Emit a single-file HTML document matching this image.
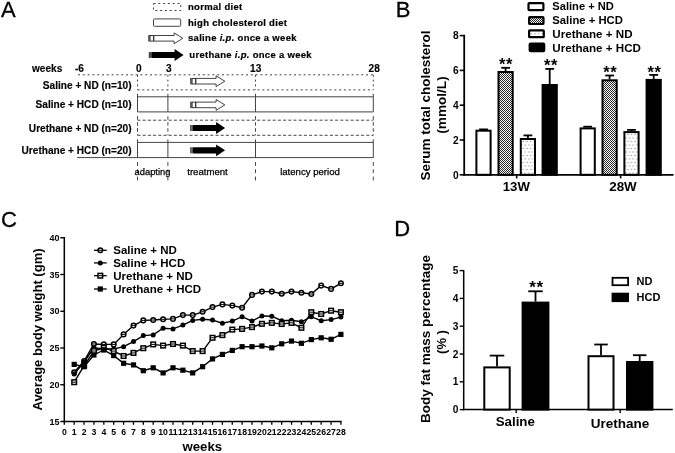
<!DOCTYPE html><html><head><meta charset="utf-8"><title>Figure</title>
<style>html,body{margin:0;padding:0;background:#fff}svg{display:block}text{font-family:"Liberation Sans", Arial, sans-serif;fill:#000}</style></head><body>
<svg width="675" height="453" viewBox="0 0 675 453">
<defs>
<pattern id="chk" width="2" height="2" patternUnits="userSpaceOnUse"><rect width="2" height="2" fill="#fff"/><rect width="1" height="1" fill="#2a2a2a"/><rect x="1" y="1" width="1" height="1" fill="#2a2a2a"/></pattern>
<pattern id="dot" x="0.5" y="0" width="3.6" height="7" patternUnits="userSpaceOnUse"><rect width="3.6" height="7" fill="#fff"/><rect x="0.4" y="1" width="1" height="1" fill="#777"/><rect x="2.2" y="4.5" width="1" height="1" fill="#777"/></pattern>
<pattern id="dot2" x="530.6" y="31.2" width="3.6" height="7" patternUnits="userSpaceOnUse"><rect width="3.6" height="7" fill="#fff"/><rect x="0.4" y="2" width="1" height="1" fill="#777"/></pattern>
</defs>
<rect width="675" height="453" fill="#fff"/>
<text x="0.9" y="16.8" font-size="22" font-weight="normal" text-anchor="start" stroke="#000" stroke-width="0.3">A</text>
<rect x="153.5" y="3.5" width="27.2" height="7" fill="none" stroke="#444" stroke-width="1" stroke-dasharray="2 2.8"/>
<rect x="153.5" y="18.9" width="27.2" height="7.4" fill="#fff" stroke="#444" stroke-width="1" rx="1"/>
<rect x="148.3" y="35.099999999999994" width="1.3" height="6.4" fill="#222"/>
<rect x="150.10000000000002" y="35.5" width="3.3" height="5.6" fill="#fff" stroke="#222" stroke-width="0.9"/>
<path d="M153.9 35.5H174.10000000000002V32.9L182.8 38.3L174.10000000000002 43.699999999999996V41.099999999999994H153.9Z" fill="#fff" stroke="#222" stroke-width="0.85"/>
<rect x="148.8" y="52" width="2.6" height="6" fill="#999"/>
<rect x="148.9" y="52" width="0.8" height="6" fill="#222"/>
<rect x="150.3" y="52" width="0.7" height="6" fill="#333"/>
<path d="M152.0 51.9H174.60000000000002V49.1L183.60000000000002 55L174.60000000000002 60.9V58.1H152.0L151.3 57.4V52.6Z" fill="#000"/>
<text x="188" y="10.4" font-size="9.5" font-weight="bold" text-anchor="start" letter-spacing="0.3" stroke="#000" stroke-width="0.2">normal diet</text>
<text x="188" y="25.6" font-size="9.5" font-weight="bold" text-anchor="start" letter-spacing="0.3" stroke="#000" stroke-width="0.2">high cholesterol diet</text>
<text x="188" y="40.6" font-size="9.5" font-weight="bold" text-anchor="start" letter-spacing="0.3" stroke="#000" stroke-width="0.2">saline <tspan font-style="italic">i.p.</tspan> once a week</text>
<text x="189.3" y="57.6" font-size="9.5" font-weight="bold" text-anchor="start" letter-spacing="0.3" stroke="#000" stroke-width="0.2">urethane <tspan font-style="italic">i.p.</tspan> once a week</text>
<text x="32" y="71.8" font-size="10.1" font-weight="bold" text-anchor="start" stroke="#000" stroke-width="0.15">weeks</text>
<text x="75" y="71.8" font-size="10.1" font-weight="bold" text-anchor="start" stroke="#000" stroke-width="0.15">-6</text>
<text x="138.7" y="71.8" font-size="10.1" font-weight="bold" text-anchor="middle" stroke="#000" stroke-width="0.15">0</text>
<text x="168.7" y="71.8" font-size="10.1" font-weight="bold" text-anchor="middle" stroke="#000" stroke-width="0.15">3</text>
<text x="255.7" y="71.8" font-size="10.1" font-weight="bold" text-anchor="middle" stroke="#000" stroke-width="0.15">13</text>
<text x="374.2" y="71.8" font-size="10.1" font-weight="bold" text-anchor="middle" stroke="#000" stroke-width="0.15">28</text>
<line x1="78" y1="74.8" x2="373.3" y2="74.8" stroke="#444" stroke-width="1" stroke-dasharray="2 2.8"/>
<line x1="137.5" y1="89.9" x2="373.3" y2="89.9" stroke="#444" stroke-width="1" stroke-dasharray="2 2.8"/>
<line x1="137.5" y1="74.8" x2="137.5" y2="89.9" stroke="#444" stroke-width="1" stroke-dasharray="2 2.8"/>
<line x1="167.9" y1="74.8" x2="167.9" y2="89.9" stroke="#444" stroke-width="1" stroke-dasharray="2 2.8"/>
<line x1="255.5" y1="74.8" x2="255.5" y2="89.9" stroke="#444" stroke-width="1" stroke-dasharray="2 2.8"/>
<line x1="373.3" y1="74.8" x2="373.3" y2="89.9" stroke="#444" stroke-width="1" stroke-dasharray="2 2.8"/>
<text x="131.5" y="88.5" font-size="10.1" font-weight="bold" text-anchor="end" stroke="#000" stroke-width="0.15">Saline + ND (n=10)</text>
<rect x="190.3" y="78.0" width="1.3" height="6.4" fill="#222"/>
<rect x="192.10000000000002" y="78.4" width="3.3" height="5.6" fill="#fff" stroke="#222" stroke-width="0.9"/>
<path d="M195.9 78.4H216.10000000000002V75.8L224.8 81.2L216.10000000000002 86.60000000000001V84.0H195.9Z" fill="#fff" stroke="#222" stroke-width="0.85"/>
<line x1="137.5" y1="96.8" x2="373.3" y2="96.8" stroke="#444" stroke-width="1" />
<line x1="137.5" y1="111.9" x2="373.3" y2="111.9" stroke="#444" stroke-width="1" />
<line x1="137.5" y1="93.8" x2="137.5" y2="111.9" stroke="#444" stroke-width="1" />
<line x1="167.9" y1="93.8" x2="167.9" y2="111.9" stroke="#444" stroke-width="1" />
<line x1="255.5" y1="93.8" x2="255.5" y2="111.9" stroke="#444" stroke-width="1" />
<line x1="373.3" y1="93.8" x2="373.3" y2="111.9" stroke="#444" stroke-width="1" />
<text x="131.5" y="107.7" font-size="10.1" font-weight="bold" text-anchor="end" stroke="#000" stroke-width="0.15">Saline + HCD (n=10)</text>
<rect x="190.3" y="101.7" width="1.3" height="6.4" fill="#222"/>
<rect x="192.10000000000002" y="102.10000000000001" width="3.3" height="5.6" fill="#fff" stroke="#222" stroke-width="0.9"/>
<path d="M195.9 102.10000000000001H216.10000000000002V99.5L224.8 104.9L216.10000000000002 110.30000000000001V107.7H195.9Z" fill="#fff" stroke="#222" stroke-width="0.85"/>
<line x1="137.5" y1="120.2" x2="373.3" y2="120.2" stroke="#444" stroke-width="1" stroke-dasharray="3 2.2"/>
<line x1="137.5" y1="135.3" x2="373.3" y2="135.3" stroke="#444" stroke-width="1" stroke-dasharray="3 2.2"/>
<line x1="137.5" y1="116.2" x2="137.5" y2="135.3" stroke="#444" stroke-width="1" stroke-dasharray="3.5 2.5"/>
<line x1="167.9" y1="116.2" x2="167.9" y2="135.3" stroke="#444" stroke-width="1" stroke-dasharray="3.5 2.5"/>
<line x1="255.5" y1="116.2" x2="255.5" y2="135.3" stroke="#444" stroke-width="1" stroke-dasharray="3.5 2.5"/>
<line x1="373.3" y1="116.2" x2="373.3" y2="135.3" stroke="#444" stroke-width="1" stroke-dasharray="3.5 2.5"/>
<text x="131.5" y="132" font-size="10.1" font-weight="bold" text-anchor="end" stroke="#000" stroke-width="0.15">Urethane + ND (n=20)</text>
<rect x="190.3" y="125" width="2.6" height="6" fill="#999"/>
<rect x="190.4" y="125" width="0.8" height="6" fill="#222"/>
<rect x="191.8" y="125" width="0.7" height="6" fill="#333"/>
<path d="M193.5 124.9H216.10000000000002V122.1L225.10000000000002 128L216.10000000000002 133.9V131.1H193.5L192.8 130.4V125.6Z" fill="#000"/>
<line x1="137.5" y1="142.4" x2="373.3" y2="142.4" stroke="#444" stroke-width="1" />
<line x1="77" y1="157.6" x2="373.3" y2="157.6" stroke="#444" stroke-width="1" />
<line x1="137.5" y1="139.4" x2="137.5" y2="157.6" stroke="#444" stroke-width="1" />
<line x1="167.9" y1="139.4" x2="167.9" y2="157.6" stroke="#444" stroke-width="1" />
<line x1="255.5" y1="139.4" x2="255.5" y2="157.6" stroke="#444" stroke-width="1" />
<line x1="373.3" y1="139.4" x2="373.3" y2="157.6" stroke="#444" stroke-width="1" />
<text x="131.5" y="153.7" font-size="10.1" font-weight="bold" text-anchor="end" stroke="#000" stroke-width="0.15">Urethane + HCD (n=20)</text>
<rect x="190.3" y="147.3" width="2.6" height="6" fill="#999"/>
<rect x="190.4" y="147.3" width="0.8" height="6" fill="#222"/>
<rect x="191.8" y="147.3" width="0.7" height="6" fill="#333"/>
<path d="M193.5 147.20000000000002H216.10000000000002V144.4L225.10000000000002 150.3L216.10000000000002 156.20000000000002V153.4H193.5L192.8 152.70000000000002V147.9Z" fill="#000"/>
<line x1="137.5" y1="162" x2="137.5" y2="181.5" stroke="#444" stroke-width="1" stroke-dasharray="3.8 3.5"/>
<line x1="167.9" y1="162" x2="167.9" y2="181.5" stroke="#444" stroke-width="1" stroke-dasharray="3.8 3.5"/>
<line x1="255.5" y1="162" x2="255.5" y2="181.5" stroke="#444" stroke-width="1" stroke-dasharray="3.8 3.5"/>
<line x1="373.3" y1="162" x2="373.3" y2="181.5" stroke="#444" stroke-width="1" stroke-dasharray="3.8 3.5"/>
<text x="152.5" y="174.8" font-size="9.4" font-weight="normal" text-anchor="middle" stroke="#000" stroke-width="0.25">adapting</text>
<text x="207.5" y="174.8" font-size="9.6" font-weight="normal" text-anchor="middle" stroke="#000" stroke-width="0.25">treatment</text>
<text x="310" y="174.8" font-size="9.6" font-weight="normal" text-anchor="middle" stroke="#000" stroke-width="0.25">latency period</text>
<text x="395.7" y="16.7" font-size="22" font-weight="normal" text-anchor="start" stroke="#000" stroke-width="0.3">B</text>
<rect x="528.5" y="3.2" width="14.900000000000023" height="6.8999999999999995" fill="#fff" stroke="#000" stroke-width="2.2" rx="0.8"/>
<text x="552.3" y="10.0" font-size="11.6" font-weight="bold" text-anchor="start" textLength="61.6" lengthAdjust="spacingAndGlyphs">Saline + ND</text>
<rect x="529.1" y="17.1" width="14.400000000000023" height="6.900000000000001" fill="url(#chk)" stroke="#000" stroke-width="2.2" rx="0.8"/>
<text x="552.3" y="24.1" font-size="11.6" font-weight="bold" text-anchor="start" textLength="70.6" lengthAdjust="spacingAndGlyphs">Saline + HCD</text>
<rect x="529.1" y="30.3" width="14.699999999999978" height="6.899999999999998" fill="url(#dot2)" stroke="#000" stroke-width="2.2" rx="0.8"/>
<text x="552.3" y="37.5" font-size="11.6" font-weight="bold" text-anchor="start" >Urethane + ND</text>
<rect x="529.7" y="43.6" width="14.499999999999932" height="7.500000000000003" fill="#000" stroke="#000" stroke-width="2.2" rx="0.8"/>
<text x="552.3" y="51.5" font-size="11.6" font-weight="bold" text-anchor="start" >Urethane + HCD</text>
<line x1="464.2" y1="34.800000000000026" x2="464.2" y2="175.70000000000002" stroke="#000" stroke-width="1.8" />
<line x1="463.3" y1="174.8" x2="673.5" y2="174.8" stroke="#000" stroke-width="1.8" />
<line x1="459.7" y1="174.8" x2="464.2" y2="174.8" stroke="#000" stroke-width="1.6" />
<text x="458.59999999999997" y="178.5" font-size="10.2" font-weight="bold" text-anchor="end" >0</text>
<line x1="459.7" y1="140.0" x2="464.2" y2="140.0" stroke="#000" stroke-width="1.6" />
<text x="458.59999999999997" y="143.7" font-size="10.2" font-weight="bold" text-anchor="end" >2</text>
<line x1="459.7" y1="105.20000000000002" x2="464.2" y2="105.20000000000002" stroke="#000" stroke-width="1.6" />
<text x="458.59999999999997" y="108.90000000000002" font-size="10.2" font-weight="bold" text-anchor="end" >4</text>
<line x1="459.7" y1="70.40000000000002" x2="464.2" y2="70.40000000000002" stroke="#000" stroke-width="1.6" />
<text x="458.59999999999997" y="74.10000000000002" font-size="10.2" font-weight="bold" text-anchor="end" >6</text>
<line x1="459.7" y1="35.60000000000002" x2="464.2" y2="35.60000000000002" stroke="#000" stroke-width="1.6" />
<text x="458.59999999999997" y="39.300000000000026" font-size="10.2" font-weight="bold" text-anchor="end" >8</text>
<text transform="translate(430.0 105.5) rotate(-90)" font-size="13.5" font-weight="bold" text-anchor="middle" >Serum total cholesterol</text>
<text transform="translate(446.1 105) rotate(-90)" font-size="13.6" font-weight="bold" text-anchor="middle" >(mmol/L)</text>
<line x1="483.5" y1="129.7" x2="483.5" y2="129.4" stroke="#000" stroke-width="1.8" />
<line x1="479.1" y1="129.4" x2="487.9" y2="129.4" stroke="#000" stroke-width="1.8" />
<rect x="476.4" y="130.7" width="14.2" height="44.10000000000002" fill="#fff" stroke="#000" stroke-width="2" />
<line x1="505.6" y1="71" x2="505.6" y2="67.8" stroke="#000" stroke-width="1.8" />
<line x1="501.20000000000005" y1="67.8" x2="510.0" y2="67.8" stroke="#000" stroke-width="1.8" />
<rect x="498.5" y="72" width="14.2" height="102.80000000000001" fill="url(#chk)" stroke="#000" stroke-width="2" />
<line x1="527.9" y1="138" x2="527.9" y2="135.4" stroke="#000" stroke-width="1.8" />
<line x1="523.5" y1="135.4" x2="532.3" y2="135.4" stroke="#000" stroke-width="1.8" />
<rect x="520.8" y="139" width="14.2" height="35.80000000000001" fill="url(#dot)" stroke="#000" stroke-width="2" />
<line x1="549.7" y1="84" x2="549.7" y2="68.9" stroke="#000" stroke-width="1.8" />
<line x1="545.3000000000001" y1="68.9" x2="554.1" y2="68.9" stroke="#000" stroke-width="1.8" />
<rect x="542.6" y="85" width="14.2" height="89.80000000000001" fill="#000" stroke="#000" stroke-width="2" />
<line x1="587.7" y1="127.4" x2="587.7" y2="126.7" stroke="#000" stroke-width="1.8" />
<line x1="583.3000000000001" y1="126.7" x2="592.1" y2="126.7" stroke="#000" stroke-width="1.8" />
<rect x="580.6" y="128.4" width="14.2" height="46.400000000000006" fill="#fff" stroke="#000" stroke-width="2" />
<line x1="609.6" y1="79.3" x2="609.6" y2="75.5" stroke="#000" stroke-width="1.8" />
<line x1="605.2" y1="75.5" x2="614.0" y2="75.5" stroke="#000" stroke-width="1.8" />
<rect x="602.5" y="80.3" width="14.2" height="94.50000000000001" fill="url(#chk)" stroke="#000" stroke-width="2" />
<line x1="631.5" y1="131.1" x2="631.5" y2="129.9" stroke="#000" stroke-width="1.8" />
<line x1="627.1" y1="129.9" x2="635.9" y2="129.9" stroke="#000" stroke-width="1.8" />
<rect x="624.4" y="132.1" width="14.2" height="42.70000000000002" fill="url(#dot)" stroke="#000" stroke-width="2" />
<line x1="653.7" y1="78.9" x2="653.7" y2="74.9" stroke="#000" stroke-width="1.8" />
<line x1="649.3000000000001" y1="74.9" x2="658.1" y2="74.9" stroke="#000" stroke-width="1.8" />
<rect x="646.6" y="79.9" width="14.2" height="94.9" fill="#000" stroke="#000" stroke-width="2" />
<text x="506.1" y="70" font-size="16.5" font-weight="bold" text-anchor="middle" letter-spacing="0.6">**</text>
<text x="551.0999999999999" y="71.3" font-size="16.5" font-weight="bold" text-anchor="middle" letter-spacing="0.6">**</text>
<text x="610.1999999999999" y="78.3" font-size="16.5" font-weight="bold" text-anchor="middle" letter-spacing="0.6">**</text>
<text x="654.5" y="78.3" font-size="16.5" font-weight="bold" text-anchor="middle" letter-spacing="0.6">**</text>
<line x1="516.7" y1="174.8" x2="516.7" y2="178.4" stroke="#000" stroke-width="1.6" />
<line x1="620.6" y1="174.8" x2="620.6" y2="178.4" stroke="#000" stroke-width="1.6" />
<text x="516.3" y="190.8" font-size="13.2" font-weight="bold" text-anchor="middle" >13W</text>
<text x="623" y="190.8" font-size="13.4" font-weight="bold" text-anchor="middle" >28W</text>
<text x="1" y="227.1" font-size="22" font-weight="normal" text-anchor="start" stroke="#000" stroke-width="0.3">C</text>
<line x1="64.3" y1="237" x2="64.3" y2="422.2" stroke="#000" stroke-width="1.5" />
<line x1="63.599999999999994" y1="421.5" x2="341.64000000000004" y2="421.5" stroke="#000" stroke-width="1.5" />
<line x1="60.3" y1="421.5" x2="64.3" y2="421.5" stroke="#000" stroke-width="1.4" />
<text x="59.5" y="424.7" font-size="9" font-weight="bold" text-anchor="end" >15</text>
<line x1="60.3" y1="384.75" x2="64.3" y2="384.75" stroke="#000" stroke-width="1.4" />
<text x="59.5" y="387.95" font-size="9" font-weight="bold" text-anchor="end" >20</text>
<line x1="60.3" y1="348.0" x2="64.3" y2="348.0" stroke="#000" stroke-width="1.4" />
<text x="59.5" y="351.2" font-size="9" font-weight="bold" text-anchor="end" >25</text>
<line x1="60.3" y1="311.25" x2="64.3" y2="311.25" stroke="#000" stroke-width="1.4" />
<text x="59.5" y="314.45" font-size="9" font-weight="bold" text-anchor="end" >30</text>
<line x1="60.3" y1="274.5" x2="64.3" y2="274.5" stroke="#000" stroke-width="1.4" />
<text x="59.5" y="277.7" font-size="9" font-weight="bold" text-anchor="end" >35</text>
<line x1="60.3" y1="237.75" x2="64.3" y2="237.75" stroke="#000" stroke-width="1.4" />
<text x="59.5" y="240.95" font-size="9" font-weight="bold" text-anchor="end" >40</text>
<line x1="64.3" y1="421.5" x2="64.3" y2="424.8" stroke="#000" stroke-width="1.3" />
<text x="64.3" y="434.6" font-size="8.7" font-weight="bold" text-anchor="middle" >0</text>
<line x1="74.17999999999999" y1="421.5" x2="74.17999999999999" y2="424.8" stroke="#000" stroke-width="1.3" />
<text x="74.17999999999999" y="434.6" font-size="8.7" font-weight="bold" text-anchor="middle" >1</text>
<line x1="84.06" y1="421.5" x2="84.06" y2="424.8" stroke="#000" stroke-width="1.3" />
<text x="84.06" y="434.6" font-size="8.7" font-weight="bold" text-anchor="middle" >2</text>
<line x1="93.94" y1="421.5" x2="93.94" y2="424.8" stroke="#000" stroke-width="1.3" />
<text x="93.94" y="434.6" font-size="8.7" font-weight="bold" text-anchor="middle" >3</text>
<line x1="103.82" y1="421.5" x2="103.82" y2="424.8" stroke="#000" stroke-width="1.3" />
<text x="103.82" y="434.6" font-size="8.7" font-weight="bold" text-anchor="middle" >4</text>
<line x1="113.7" y1="421.5" x2="113.7" y2="424.8" stroke="#000" stroke-width="1.3" />
<text x="113.7" y="434.6" font-size="8.7" font-weight="bold" text-anchor="middle" >5</text>
<line x1="123.58" y1="421.5" x2="123.58" y2="424.8" stroke="#000" stroke-width="1.3" />
<text x="123.58" y="434.6" font-size="8.7" font-weight="bold" text-anchor="middle" >6</text>
<line x1="133.46" y1="421.5" x2="133.46" y2="424.8" stroke="#000" stroke-width="1.3" />
<text x="133.46" y="434.6" font-size="8.7" font-weight="bold" text-anchor="middle" >7</text>
<line x1="143.34" y1="421.5" x2="143.34" y2="424.8" stroke="#000" stroke-width="1.3" />
<text x="143.34" y="434.6" font-size="8.7" font-weight="bold" text-anchor="middle" >8</text>
<line x1="153.22" y1="421.5" x2="153.22" y2="424.8" stroke="#000" stroke-width="1.3" />
<text x="153.22" y="434.6" font-size="8.7" font-weight="bold" text-anchor="middle" >9</text>
<line x1="163.10000000000002" y1="421.5" x2="163.10000000000002" y2="424.8" stroke="#000" stroke-width="1.3" />
<text x="163.10000000000002" y="434.6" font-size="8.7" font-weight="bold" text-anchor="middle" >10</text>
<line x1="172.98000000000002" y1="421.5" x2="172.98000000000002" y2="424.8" stroke="#000" stroke-width="1.3" />
<text x="172.98000000000002" y="434.6" font-size="8.7" font-weight="bold" text-anchor="middle" >11</text>
<line x1="182.86" y1="421.5" x2="182.86" y2="424.8" stroke="#000" stroke-width="1.3" />
<text x="182.86" y="434.6" font-size="8.7" font-weight="bold" text-anchor="middle" >12</text>
<line x1="192.74" y1="421.5" x2="192.74" y2="424.8" stroke="#000" stroke-width="1.3" />
<text x="192.74" y="434.6" font-size="8.7" font-weight="bold" text-anchor="middle" >13</text>
<line x1="202.62" y1="421.5" x2="202.62" y2="424.8" stroke="#000" stroke-width="1.3" />
<text x="202.62" y="434.6" font-size="8.7" font-weight="bold" text-anchor="middle" >14</text>
<line x1="212.5" y1="421.5" x2="212.5" y2="424.8" stroke="#000" stroke-width="1.3" />
<text x="212.5" y="434.6" font-size="8.7" font-weight="bold" text-anchor="middle" >15</text>
<line x1="222.38" y1="421.5" x2="222.38" y2="424.8" stroke="#000" stroke-width="1.3" />
<text x="222.38" y="434.6" font-size="8.7" font-weight="bold" text-anchor="middle" >16</text>
<line x1="232.26" y1="421.5" x2="232.26" y2="424.8" stroke="#000" stroke-width="1.3" />
<text x="232.26" y="434.6" font-size="8.7" font-weight="bold" text-anchor="middle" >17</text>
<line x1="242.14" y1="421.5" x2="242.14" y2="424.8" stroke="#000" stroke-width="1.3" />
<text x="242.14" y="434.6" font-size="8.7" font-weight="bold" text-anchor="middle" >18</text>
<line x1="252.02000000000004" y1="421.5" x2="252.02000000000004" y2="424.8" stroke="#000" stroke-width="1.3" />
<text x="252.02000000000004" y="434.6" font-size="8.7" font-weight="bold" text-anchor="middle" >19</text>
<line x1="261.90000000000003" y1="421.5" x2="261.90000000000003" y2="424.8" stroke="#000" stroke-width="1.3" />
<text x="261.90000000000003" y="434.6" font-size="8.7" font-weight="bold" text-anchor="middle" >20</text>
<line x1="271.78000000000003" y1="421.5" x2="271.78000000000003" y2="424.8" stroke="#000" stroke-width="1.3" />
<text x="271.78000000000003" y="434.6" font-size="8.7" font-weight="bold" text-anchor="middle" >21</text>
<line x1="281.66" y1="421.5" x2="281.66" y2="424.8" stroke="#000" stroke-width="1.3" />
<text x="281.66" y="434.6" font-size="8.7" font-weight="bold" text-anchor="middle" >22</text>
<line x1="291.54" y1="421.5" x2="291.54" y2="424.8" stroke="#000" stroke-width="1.3" />
<text x="291.54" y="434.6" font-size="8.7" font-weight="bold" text-anchor="middle" >23</text>
<line x1="301.42" y1="421.5" x2="301.42" y2="424.8" stroke="#000" stroke-width="1.3" />
<text x="301.42" y="434.6" font-size="8.7" font-weight="bold" text-anchor="middle" >24</text>
<line x1="311.3" y1="421.5" x2="311.3" y2="424.8" stroke="#000" stroke-width="1.3" />
<text x="311.3" y="434.6" font-size="8.7" font-weight="bold" text-anchor="middle" >25</text>
<line x1="321.18" y1="421.5" x2="321.18" y2="424.8" stroke="#000" stroke-width="1.3" />
<text x="321.18" y="434.6" font-size="8.7" font-weight="bold" text-anchor="middle" >26</text>
<line x1="331.06000000000006" y1="421.5" x2="331.06000000000006" y2="424.8" stroke="#000" stroke-width="1.3" />
<text x="331.06000000000006" y="434.6" font-size="8.7" font-weight="bold" text-anchor="middle" >27</text>
<line x1="340.94000000000005" y1="421.5" x2="340.94000000000005" y2="424.8" stroke="#000" stroke-width="1.3" />
<text x="340.94000000000005" y="434.6" font-size="8.7" font-weight="bold" text-anchor="middle" >28</text>
<text x="202.3" y="451" font-size="13.2" font-weight="bold" text-anchor="middle" >weeks</text>
<text transform="translate(42.2 329.5) rotate(-90)" font-size="13.0" font-weight="bold" text-anchor="middle" >Average body weight (gm)</text>
<polyline fill="none" stroke="#000" stroke-width="1.4" points="74.2,372.2 84.1,361.0 93.9,344.0 103.8,344.4 113.7,344.4 123.6,334.4 133.5,325.6 143.3,320.4 153.2,320.0 163.1,319.3 173.0,318.9 182.9,315.1 192.7,315.1 202.6,311.8 212.5,307.1 222.4,304.4 232.3,305.6 242.1,307.8 252.0,294.9 261.9,291.6 271.8,291.6 281.7,293.8 291.5,291.6 301.4,292.7 311.3,294.0 321.2,285.6 331.1,288.9 340.9,283.3"/>
<circle cx="74.2" cy="372.2" r="2.3" fill="#fff" stroke="#000" stroke-width="1.5"/><line x1="72.4" y1="372.2" x2="76.0" y2="372.2" stroke="#000" stroke-width="1"/>
<circle cx="84.1" cy="361.0" r="2.3" fill="#fff" stroke="#000" stroke-width="1.5"/><line x1="82.3" y1="361.0" x2="85.9" y2="361.0" stroke="#000" stroke-width="1"/>
<circle cx="93.9" cy="344.0" r="2.3" fill="#fff" stroke="#000" stroke-width="1.5"/><line x1="92.1" y1="344.0" x2="95.7" y2="344.0" stroke="#000" stroke-width="1"/>
<circle cx="103.8" cy="344.4" r="2.3" fill="#fff" stroke="#000" stroke-width="1.5"/><line x1="102.0" y1="344.4" x2="105.6" y2="344.4" stroke="#000" stroke-width="1"/>
<circle cx="113.7" cy="344.4" r="2.3" fill="#fff" stroke="#000" stroke-width="1.5"/><line x1="111.9" y1="344.4" x2="115.5" y2="344.4" stroke="#000" stroke-width="1"/>
<circle cx="123.6" cy="334.4" r="2.3" fill="#fff" stroke="#000" stroke-width="1.5"/><line x1="121.8" y1="334.4" x2="125.4" y2="334.4" stroke="#000" stroke-width="1"/>
<circle cx="133.5" cy="325.6" r="2.3" fill="#fff" stroke="#000" stroke-width="1.5"/><line x1="131.7" y1="325.6" x2="135.3" y2="325.6" stroke="#000" stroke-width="1"/>
<circle cx="143.3" cy="320.4" r="2.3" fill="#fff" stroke="#000" stroke-width="1.5"/><line x1="141.5" y1="320.4" x2="145.1" y2="320.4" stroke="#000" stroke-width="1"/>
<circle cx="153.2" cy="320.0" r="2.3" fill="#fff" stroke="#000" stroke-width="1.5"/><line x1="151.4" y1="320.0" x2="155.0" y2="320.0" stroke="#000" stroke-width="1"/>
<circle cx="163.1" cy="319.3" r="2.3" fill="#fff" stroke="#000" stroke-width="1.5"/><line x1="161.3" y1="319.3" x2="164.9" y2="319.3" stroke="#000" stroke-width="1"/>
<circle cx="173.0" cy="318.9" r="2.3" fill="#fff" stroke="#000" stroke-width="1.5"/><line x1="171.2" y1="318.9" x2="174.8" y2="318.9" stroke="#000" stroke-width="1"/>
<circle cx="182.9" cy="315.1" r="2.3" fill="#fff" stroke="#000" stroke-width="1.5"/><line x1="181.1" y1="315.1" x2="184.7" y2="315.1" stroke="#000" stroke-width="1"/>
<circle cx="192.7" cy="315.1" r="2.3" fill="#fff" stroke="#000" stroke-width="1.5"/><line x1="190.9" y1="315.1" x2="194.5" y2="315.1" stroke="#000" stroke-width="1"/>
<circle cx="202.6" cy="311.8" r="2.3" fill="#fff" stroke="#000" stroke-width="1.5"/><line x1="200.8" y1="311.8" x2="204.4" y2="311.8" stroke="#000" stroke-width="1"/>
<circle cx="212.5" cy="307.1" r="2.3" fill="#fff" stroke="#000" stroke-width="1.5"/><line x1="210.7" y1="307.1" x2="214.3" y2="307.1" stroke="#000" stroke-width="1"/>
<circle cx="222.4" cy="304.4" r="2.3" fill="#fff" stroke="#000" stroke-width="1.5"/><line x1="220.6" y1="304.4" x2="224.2" y2="304.4" stroke="#000" stroke-width="1"/>
<circle cx="232.3" cy="305.6" r="2.3" fill="#fff" stroke="#000" stroke-width="1.5"/><line x1="230.5" y1="305.6" x2="234.1" y2="305.6" stroke="#000" stroke-width="1"/>
<circle cx="242.1" cy="307.8" r="2.3" fill="#fff" stroke="#000" stroke-width="1.5"/><line x1="240.3" y1="307.8" x2="243.9" y2="307.8" stroke="#000" stroke-width="1"/>
<circle cx="252.0" cy="294.9" r="2.3" fill="#fff" stroke="#000" stroke-width="1.5"/><line x1="250.2" y1="294.9" x2="253.8" y2="294.9" stroke="#000" stroke-width="1"/>
<circle cx="261.9" cy="291.6" r="2.3" fill="#fff" stroke="#000" stroke-width="1.5"/><line x1="260.1" y1="291.6" x2="263.7" y2="291.6" stroke="#000" stroke-width="1"/>
<circle cx="271.8" cy="291.6" r="2.3" fill="#fff" stroke="#000" stroke-width="1.5"/><line x1="270.0" y1="291.6" x2="273.6" y2="291.6" stroke="#000" stroke-width="1"/>
<circle cx="281.7" cy="293.8" r="2.3" fill="#fff" stroke="#000" stroke-width="1.5"/><line x1="279.9" y1="293.8" x2="283.5" y2="293.8" stroke="#000" stroke-width="1"/>
<circle cx="291.5" cy="291.6" r="2.3" fill="#fff" stroke="#000" stroke-width="1.5"/><line x1="289.7" y1="291.6" x2="293.3" y2="291.6" stroke="#000" stroke-width="1"/>
<circle cx="301.4" cy="292.7" r="2.3" fill="#fff" stroke="#000" stroke-width="1.5"/><line x1="299.6" y1="292.7" x2="303.2" y2="292.7" stroke="#000" stroke-width="1"/>
<circle cx="311.3" cy="294.0" r="2.3" fill="#fff" stroke="#000" stroke-width="1.5"/><line x1="309.5" y1="294.0" x2="313.1" y2="294.0" stroke="#000" stroke-width="1"/>
<circle cx="321.2" cy="285.6" r="2.3" fill="#fff" stroke="#000" stroke-width="1.5"/><line x1="319.4" y1="285.6" x2="323.0" y2="285.6" stroke="#000" stroke-width="1"/>
<circle cx="331.1" cy="288.9" r="2.3" fill="#fff" stroke="#000" stroke-width="1.5"/><line x1="329.3" y1="288.9" x2="332.9" y2="288.9" stroke="#000" stroke-width="1"/>
<circle cx="340.9" cy="283.3" r="2.3" fill="#fff" stroke="#000" stroke-width="1.5"/><line x1="339.1" y1="283.3" x2="342.7" y2="283.3" stroke="#000" stroke-width="1"/>
<polyline fill="none" stroke="#000" stroke-width="1.4" points="74.2,374.0 84.1,362.0 93.9,347.8 103.8,349.0 113.7,349.0 123.6,346.7 133.5,341.6 143.3,335.6 153.2,334.9 163.1,328.2 173.0,328.9 182.9,325.1 192.7,320.4 202.6,319.3 212.5,320.0 222.4,323.3 232.3,321.1 242.1,316.7 252.0,321.1 261.9,316.0 271.8,316.2 281.7,320.7 291.5,320.2 301.4,321.8 311.3,316.7 321.2,320.7 331.1,319.6 340.9,317.1"/>
<circle cx="74.2" cy="374.0" r="2.5" fill="#000"/>
<circle cx="84.1" cy="362.0" r="2.5" fill="#000"/>
<circle cx="93.9" cy="347.8" r="2.5" fill="#000"/>
<circle cx="103.8" cy="349.0" r="2.5" fill="#000"/>
<circle cx="113.7" cy="349.0" r="2.5" fill="#000"/>
<circle cx="123.6" cy="346.7" r="2.5" fill="#000"/>
<circle cx="133.5" cy="341.6" r="2.5" fill="#000"/>
<circle cx="143.3" cy="335.6" r="2.5" fill="#000"/>
<circle cx="153.2" cy="334.9" r="2.5" fill="#000"/>
<circle cx="163.1" cy="328.2" r="2.5" fill="#000"/>
<circle cx="173.0" cy="328.9" r="2.5" fill="#000"/>
<circle cx="182.9" cy="325.1" r="2.5" fill="#000"/>
<circle cx="192.7" cy="320.4" r="2.5" fill="#000"/>
<circle cx="202.6" cy="319.3" r="2.5" fill="#000"/>
<circle cx="212.5" cy="320.0" r="2.5" fill="#000"/>
<circle cx="222.4" cy="323.3" r="2.5" fill="#000"/>
<circle cx="232.3" cy="321.1" r="2.5" fill="#000"/>
<circle cx="242.1" cy="316.7" r="2.5" fill="#000"/>
<circle cx="252.0" cy="321.1" r="2.5" fill="#000"/>
<circle cx="261.9" cy="316.0" r="2.5" fill="#000"/>
<circle cx="271.8" cy="316.2" r="2.5" fill="#000"/>
<circle cx="281.7" cy="320.7" r="2.5" fill="#000"/>
<circle cx="291.5" cy="320.2" r="2.5" fill="#000"/>
<circle cx="301.4" cy="321.8" r="2.5" fill="#000"/>
<circle cx="311.3" cy="316.7" r="2.5" fill="#000"/>
<circle cx="321.2" cy="320.7" r="2.5" fill="#000"/>
<circle cx="331.1" cy="319.6" r="2.5" fill="#000"/>
<circle cx="340.9" cy="317.1" r="2.5" fill="#000"/>
<polyline fill="none" stroke="#000" stroke-width="1.4" points="74.2,382.2 84.1,365.6 93.9,351.0 103.8,347.8 113.7,351.1 123.6,356.0 133.5,352.9 143.3,348.2 153.2,344.4 163.1,345.6 173.0,344.0 182.9,345.6 192.7,351.1 202.6,351.1 212.5,337.8 222.4,335.1 232.3,329.6 242.1,328.9 252.0,327.1 261.9,323.8 271.8,322.9 281.7,324.0 291.5,322.9 301.4,327.8 311.3,312.2 321.2,314.0 331.1,310.7 340.9,312.2"/>
<rect x="71.9" y="379.9" width="4.6" height="4.6" fill="#fff" stroke="#000" stroke-width="1.5"/><line x1="72.4" y1="382.2" x2="76.0" y2="382.2" stroke="#000" stroke-width="1"/>
<rect x="81.8" y="363.3" width="4.6" height="4.6" fill="#fff" stroke="#000" stroke-width="1.5"/><line x1="82.3" y1="365.6" x2="85.9" y2="365.6" stroke="#000" stroke-width="1"/>
<rect x="91.6" y="348.7" width="4.6" height="4.6" fill="#fff" stroke="#000" stroke-width="1.5"/><line x1="92.1" y1="351.0" x2="95.7" y2="351.0" stroke="#000" stroke-width="1"/>
<rect x="101.5" y="345.5" width="4.6" height="4.6" fill="#fff" stroke="#000" stroke-width="1.5"/><line x1="102.0" y1="347.8" x2="105.6" y2="347.8" stroke="#000" stroke-width="1"/>
<rect x="111.4" y="348.8" width="4.6" height="4.6" fill="#fff" stroke="#000" stroke-width="1.5"/><line x1="111.9" y1="351.1" x2="115.5" y2="351.1" stroke="#000" stroke-width="1"/>
<rect x="121.3" y="353.7" width="4.6" height="4.6" fill="#fff" stroke="#000" stroke-width="1.5"/><line x1="121.8" y1="356.0" x2="125.4" y2="356.0" stroke="#000" stroke-width="1"/>
<rect x="131.2" y="350.6" width="4.6" height="4.6" fill="#fff" stroke="#000" stroke-width="1.5"/><line x1="131.7" y1="352.9" x2="135.3" y2="352.9" stroke="#000" stroke-width="1"/>
<rect x="141.0" y="345.9" width="4.6" height="4.6" fill="#fff" stroke="#000" stroke-width="1.5"/><line x1="141.5" y1="348.2" x2="145.1" y2="348.2" stroke="#000" stroke-width="1"/>
<rect x="150.9" y="342.1" width="4.6" height="4.6" fill="#fff" stroke="#000" stroke-width="1.5"/><line x1="151.4" y1="344.4" x2="155.0" y2="344.4" stroke="#000" stroke-width="1"/>
<rect x="160.8" y="343.3" width="4.6" height="4.6" fill="#fff" stroke="#000" stroke-width="1.5"/><line x1="161.3" y1="345.6" x2="164.9" y2="345.6" stroke="#000" stroke-width="1"/>
<rect x="170.7" y="341.7" width="4.6" height="4.6" fill="#fff" stroke="#000" stroke-width="1.5"/><line x1="171.2" y1="344.0" x2="174.8" y2="344.0" stroke="#000" stroke-width="1"/>
<rect x="180.6" y="343.3" width="4.6" height="4.6" fill="#fff" stroke="#000" stroke-width="1.5"/><line x1="181.1" y1="345.6" x2="184.7" y2="345.6" stroke="#000" stroke-width="1"/>
<rect x="190.4" y="348.8" width="4.6" height="4.6" fill="#fff" stroke="#000" stroke-width="1.5"/><line x1="190.9" y1="351.1" x2="194.5" y2="351.1" stroke="#000" stroke-width="1"/>
<rect x="200.3" y="348.8" width="4.6" height="4.6" fill="#fff" stroke="#000" stroke-width="1.5"/><line x1="200.8" y1="351.1" x2="204.4" y2="351.1" stroke="#000" stroke-width="1"/>
<rect x="210.2" y="335.5" width="4.6" height="4.6" fill="#fff" stroke="#000" stroke-width="1.5"/><line x1="210.7" y1="337.8" x2="214.3" y2="337.8" stroke="#000" stroke-width="1"/>
<rect x="220.1" y="332.8" width="4.6" height="4.6" fill="#fff" stroke="#000" stroke-width="1.5"/><line x1="220.6" y1="335.1" x2="224.2" y2="335.1" stroke="#000" stroke-width="1"/>
<rect x="230.0" y="327.3" width="4.6" height="4.6" fill="#fff" stroke="#000" stroke-width="1.5"/><line x1="230.5" y1="329.6" x2="234.1" y2="329.6" stroke="#000" stroke-width="1"/>
<rect x="239.8" y="326.6" width="4.6" height="4.6" fill="#fff" stroke="#000" stroke-width="1.5"/><line x1="240.3" y1="328.9" x2="243.9" y2="328.9" stroke="#000" stroke-width="1"/>
<rect x="249.7" y="324.8" width="4.6" height="4.6" fill="#fff" stroke="#000" stroke-width="1.5"/><line x1="250.2" y1="327.1" x2="253.8" y2="327.1" stroke="#000" stroke-width="1"/>
<rect x="259.6" y="321.5" width="4.6" height="4.6" fill="#fff" stroke="#000" stroke-width="1.5"/><line x1="260.1" y1="323.8" x2="263.7" y2="323.8" stroke="#000" stroke-width="1"/>
<rect x="269.5" y="320.6" width="4.6" height="4.6" fill="#fff" stroke="#000" stroke-width="1.5"/><line x1="270.0" y1="322.9" x2="273.6" y2="322.9" stroke="#000" stroke-width="1"/>
<rect x="279.4" y="321.7" width="4.6" height="4.6" fill="#fff" stroke="#000" stroke-width="1.5"/><line x1="279.9" y1="324.0" x2="283.5" y2="324.0" stroke="#000" stroke-width="1"/>
<rect x="289.2" y="320.6" width="4.6" height="4.6" fill="#fff" stroke="#000" stroke-width="1.5"/><line x1="289.7" y1="322.9" x2="293.3" y2="322.9" stroke="#000" stroke-width="1"/>
<rect x="299.1" y="325.5" width="4.6" height="4.6" fill="#fff" stroke="#000" stroke-width="1.5"/><line x1="299.6" y1="327.8" x2="303.2" y2="327.8" stroke="#000" stroke-width="1"/>
<rect x="309.0" y="309.9" width="4.6" height="4.6" fill="#fff" stroke="#000" stroke-width="1.5"/><line x1="309.5" y1="312.2" x2="313.1" y2="312.2" stroke="#000" stroke-width="1"/>
<rect x="318.9" y="311.7" width="4.6" height="4.6" fill="#fff" stroke="#000" stroke-width="1.5"/><line x1="319.4" y1="314.0" x2="323.0" y2="314.0" stroke="#000" stroke-width="1"/>
<rect x="328.8" y="308.4" width="4.6" height="4.6" fill="#fff" stroke="#000" stroke-width="1.5"/><line x1="329.3" y1="310.7" x2="332.9" y2="310.7" stroke="#000" stroke-width="1"/>
<rect x="338.6" y="309.9" width="4.6" height="4.6" fill="#fff" stroke="#000" stroke-width="1.5"/><line x1="339.1" y1="312.2" x2="342.7" y2="312.2" stroke="#000" stroke-width="1"/>
<polyline fill="none" stroke="#000" stroke-width="1.4" points="74.2,364.4 84.1,366.7 93.9,355.0 103.8,350.0 113.7,355.6 123.6,363.3 133.5,364.9 143.3,370.7 153.2,367.8 163.1,372.9 173.0,367.8 182.9,370.2 192.7,372.9 202.6,366.7 212.5,358.9 222.4,354.4 232.3,350.4 242.1,346.7 252.0,346.7 261.9,346.0 271.8,347.8 281.7,343.8 291.5,341.1 301.4,343.3 311.3,339.6 321.2,337.8 331.1,339.3 340.9,334.4"/>
<rect x="71.6" y="361.8" width="5.2" height="5.2" fill="#000"/>
<rect x="81.5" y="364.1" width="5.2" height="5.2" fill="#000"/>
<rect x="91.3" y="352.4" width="5.2" height="5.2" fill="#000"/>
<rect x="101.2" y="347.4" width="5.2" height="5.2" fill="#000"/>
<rect x="111.1" y="353.0" width="5.2" height="5.2" fill="#000"/>
<rect x="121.0" y="360.7" width="5.2" height="5.2" fill="#000"/>
<rect x="130.9" y="362.3" width="5.2" height="5.2" fill="#000"/>
<rect x="140.7" y="368.1" width="5.2" height="5.2" fill="#000"/>
<rect x="150.6" y="365.2" width="5.2" height="5.2" fill="#000"/>
<rect x="160.5" y="370.3" width="5.2" height="5.2" fill="#000"/>
<rect x="170.4" y="365.2" width="5.2" height="5.2" fill="#000"/>
<rect x="180.3" y="367.6" width="5.2" height="5.2" fill="#000"/>
<rect x="190.1" y="370.3" width="5.2" height="5.2" fill="#000"/>
<rect x="200.0" y="364.1" width="5.2" height="5.2" fill="#000"/>
<rect x="209.9" y="356.3" width="5.2" height="5.2" fill="#000"/>
<rect x="219.8" y="351.8" width="5.2" height="5.2" fill="#000"/>
<rect x="229.7" y="347.8" width="5.2" height="5.2" fill="#000"/>
<rect x="239.5" y="344.1" width="5.2" height="5.2" fill="#000"/>
<rect x="249.4" y="344.1" width="5.2" height="5.2" fill="#000"/>
<rect x="259.3" y="343.4" width="5.2" height="5.2" fill="#000"/>
<rect x="269.2" y="345.2" width="5.2" height="5.2" fill="#000"/>
<rect x="279.1" y="341.2" width="5.2" height="5.2" fill="#000"/>
<rect x="288.9" y="338.5" width="5.2" height="5.2" fill="#000"/>
<rect x="298.8" y="340.7" width="5.2" height="5.2" fill="#000"/>
<rect x="308.7" y="337.0" width="5.2" height="5.2" fill="#000"/>
<rect x="318.6" y="335.2" width="5.2" height="5.2" fill="#000"/>
<rect x="328.5" y="336.7" width="5.2" height="5.2" fill="#000"/>
<rect x="338.3" y="331.8" width="5.2" height="5.2" fill="#000"/>
<line x1="94" y1="250.3" x2="106.7" y2="250.3" stroke="#000" stroke-width="1.3" />
<circle cx="100.3" cy="250.3" r="2.3" fill="#fff" stroke="#000" stroke-width="1.5"/><line x1="98.5" y1="250.3" x2="102.1" y2="250.3" stroke="#000" stroke-width="1"/>
<text x="113.3" y="254.3" font-size="11.5" font-weight="bold" text-anchor="start" >Saline + ND</text>
<line x1="94" y1="262.9" x2="106.7" y2="262.9" stroke="#000" stroke-width="1.3" />
<circle cx="100.3" cy="262.9" r="2.5" fill="#000"/>
<text x="113.3" y="266.9" font-size="11.5" font-weight="bold" text-anchor="start" >Saline + HCD</text>
<line x1="94" y1="275.7" x2="106.7" y2="275.7" stroke="#000" stroke-width="1.3" />
<rect x="98.0" y="273.4" width="4.6" height="4.6" fill="#fff" stroke="#000" stroke-width="1.5"/><line x1="98.5" y1="275.7" x2="102.1" y2="275.7" stroke="#000" stroke-width="1"/>
<text x="113.3" y="279.7" font-size="11.5" font-weight="bold" text-anchor="start" >Urethane + ND</text>
<line x1="94" y1="289" x2="106.7" y2="289" stroke="#000" stroke-width="1.3" />
<rect x="97.7" y="286.4" width="5.2" height="5.2" fill="#000"/>
<text x="113.3" y="293" font-size="11.5" font-weight="bold" text-anchor="start" >Urethane + HCD</text>
<text x="394.3" y="236.2" font-size="22" font-weight="normal" text-anchor="start" stroke="#000" stroke-width="0.3">D</text>
<line x1="463.7" y1="270.2" x2="463.7" y2="410.3" stroke="#000" stroke-width="1.5" />
<line x1="463.0" y1="409.6" x2="672.8" y2="409.6" stroke="#000" stroke-width="1.5" />
<line x1="459.7" y1="409.6" x2="463.7" y2="409.6" stroke="#000" stroke-width="1.4" />
<text x="458.4" y="413.20000000000005" font-size="10.2" font-weight="bold" text-anchor="end" >0</text>
<line x1="459.7" y1="381.8" x2="463.7" y2="381.8" stroke="#000" stroke-width="1.4" />
<text x="458.4" y="385.40000000000003" font-size="10.2" font-weight="bold" text-anchor="end" >1</text>
<line x1="459.7" y1="354.0" x2="463.7" y2="354.0" stroke="#000" stroke-width="1.4" />
<text x="458.4" y="357.6" font-size="10.2" font-weight="bold" text-anchor="end" >2</text>
<line x1="459.7" y1="326.20000000000005" x2="463.7" y2="326.20000000000005" stroke="#000" stroke-width="1.4" />
<text x="458.4" y="329.80000000000007" font-size="10.2" font-weight="bold" text-anchor="end" >3</text>
<line x1="459.7" y1="298.40000000000003" x2="463.7" y2="298.40000000000003" stroke="#000" stroke-width="1.4" />
<text x="458.4" y="302.00000000000006" font-size="10.2" font-weight="bold" text-anchor="end" >4</text>
<line x1="459.7" y1="270.6" x2="463.7" y2="270.6" stroke="#000" stroke-width="1.4" />
<text x="458.4" y="274.20000000000005" font-size="10.2" font-weight="bold" text-anchor="end" >5</text>
<text transform="translate(430.2 339) rotate(-90)" font-size="13.5" font-weight="bold" text-anchor="middle" >Body fat mass percentage</text>
<text transform="translate(446.2 342) rotate(-90)" font-size="13" font-weight="bold" text-anchor="middle" >(% )</text>
<line x1="497.0" y1="366.4" x2="497.0" y2="355.6" stroke="#000" stroke-width="1.8" />
<line x1="489.75" y1="355.6" x2="504.25" y2="355.6" stroke="#000" stroke-width="1.8" />
<rect x="484.3" y="367.4" width="25.4" height="42.200000000000045" fill="#fff" stroke="#000" stroke-width="2" />
<line x1="535.5" y1="301.6" x2="535.5" y2="291.3" stroke="#000" stroke-width="1.8" />
<line x1="528.25" y1="291.3" x2="542.75" y2="291.3" stroke="#000" stroke-width="1.8" />
<rect x="522.6" y="302.6" width="25.8" height="107.0" fill="#000" stroke="#000" stroke-width="2" />
<line x1="601.0" y1="355.2" x2="601.0" y2="344.5" stroke="#000" stroke-width="1.8" />
<line x1="594.25" y1="344.5" x2="607.75" y2="344.5" stroke="#000" stroke-width="1.8" />
<rect x="588.5" y="356.2" width="25" height="53.400000000000034" fill="#fff" stroke="#000" stroke-width="2" />
<line x1="639.7" y1="361" x2="639.7" y2="355.2" stroke="#000" stroke-width="1.8" />
<line x1="632.95" y1="355.2" x2="646.45" y2="355.2" stroke="#000" stroke-width="1.8" />
<rect x="627" y="362" width="25.4" height="47.60000000000002" fill="#000" stroke="#000" stroke-width="2" />
<text x="536.5" y="293" font-size="17" font-weight="bold" text-anchor="middle" letter-spacing="0.6">**</text>
<line x1="516.2" y1="409.6" x2="516.2" y2="413.1" stroke="#000" stroke-width="1.4" />
<line x1="620.2" y1="409.6" x2="620.2" y2="413.1" stroke="#000" stroke-width="1.4" />
<text x="515.3" y="426" font-size="13.3" font-weight="bold" text-anchor="middle" >Saline</text>
<text x="620" y="428" font-size="13.5" font-weight="bold" text-anchor="middle" >Urethane</text>
<rect x="612.5" y="277.8" width="15.6" height="7.4" fill="#fff" stroke="#000" stroke-width="1.8" />
<rect x="612.5" y="293.6" width="15.6" height="7.6" fill="#000" stroke="#000" stroke-width="1.8" />
<text x="636.5" y="285.3" font-size="11" font-weight="bold" text-anchor="start" >ND</text>
<text x="636.5" y="301.3" font-size="11" font-weight="bold" text-anchor="start" >HCD</text>
</svg></body></html>
